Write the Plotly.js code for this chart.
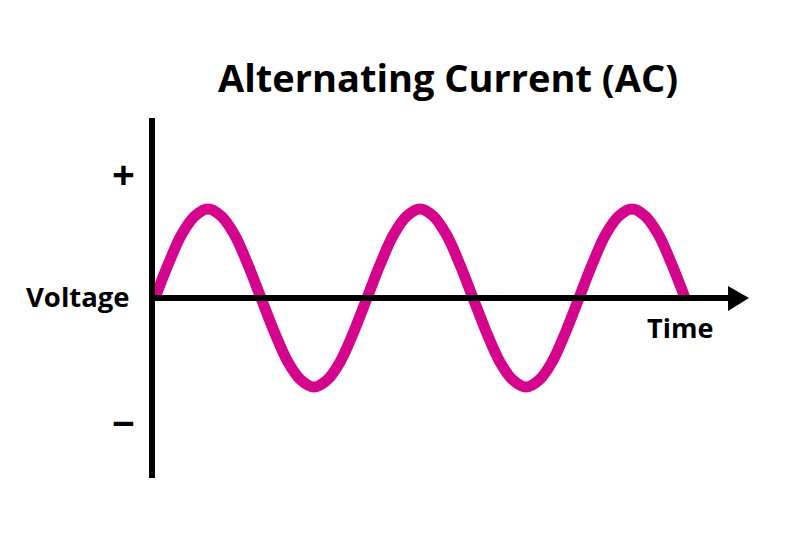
<!DOCTYPE html>
<html>
<head>
<meta charset="utf-8">
<script src="https://cdn.plot.ly/plotly-3.0.1.min.js"></script>
<style>html,body{margin:0;padding:0;background:#fff;}#chart{width:800px;height:540px;}</style>
</head>
<body>
<div id="chart"></div>
<script>
// Time in half-periods, voltage normalised to peak amplitude (read at eighth-period steps)
var timeValues = [0, 0.125, 0.25, 0.375, 0.5, 0.625, 0.75, 0.875,
                  1, 1.125, 1.25, 1.375, 1.5, 1.625, 1.75, 1.875,
                  2, 2.125, 2.25, 2.375, 2.5, 2.625, 2.75, 2.875,
                  3, 3.125, 3.25, 3.375, 3.5, 3.625, 3.75, 3.875,
                  4, 4.125, 4.25, 4.375, 4.5, 4.625, 4.75, 4.875, 5];
var voltageValues = [0, 0.38, 0.71, 0.92, 1, 0.92, 0.71, 0.38,
                     0, -0.38, -0.71, -0.92, -1, -0.92, -0.71, -0.38,
                     0, 0.38, 0.71, 0.92, 1, 0.92, 0.71, 0.38,
                     0, -0.38, -0.71, -0.92, -1, -0.92, -0.71, -0.38,
                     0, 0.38, 0.71, 0.92, 1, 0.92, 0.71, 0.38, 0];
var titleText = 'Alternating Current (AC)';
var yAxisLabel = 'Voltage';
var xAxisLabel = 'Time';
var plusLabel = '+';
var minusLabel = '\u2212';

var W = 800, H = 540;
function px(x) { return x / W; }
function py(y) { return 1 - y / H; }

var font = 'Open Sans, sans-serif';
var ink = '#000000';

var trace = {
  x: timeValues,
  y: voltageValues,
  type: 'scatter',
  mode: 'lines',
  line: { color: '#d5048c', width: 11, shape: 'spline', smoothing: 1 },
  hoverinfo: 'skip'
};

// mapping: t=0 -> 155px, 106 px per half-period; v=0 -> 298px, 89px per unit
var x0px = 155, xUnit = 106, y0px = 298, yUnit = 89;

var layout = {
  width: W, height: H,
  margin: { l: 0, r: 0, t: 0, b: 0 },
  paper_bgcolor: '#ffffff',
  plot_bgcolor: '#ffffff',
  showlegend: false,
  xaxis: { range: [-x0px / xUnit, (W - x0px) / xUnit], visible: false, fixedrange: true },
  yaxis: { range: [-(H - y0px) / yUnit, y0px / yUnit], visible: false, fixedrange: true },
  title: {
    text: '<b>' + titleText + '</b>',
    font: { family: font, size: 38, color: ink },
    x: px(448), xanchor: 'center',
    y: py(79), yanchor: 'middle', yref: 'container'
  },
  shapes: [
    { type: 'line', xref: 'paper', yref: 'paper', x0: px(152), x1: px(152), y0: py(118), y1: py(478), line: { color: ink, width: 6 } },
    { type: 'line', xref: 'paper', yref: 'paper', x0: px(149), x1: px(732), y0: py(298), y1: py(298), line: { color: ink, width: 6 } },
    { type: 'path', xref: 'paper', yref: 'paper',
      path: 'M ' + px(728) + ' ' + py(286) + ' L ' + px(749) + ' ' + py(298) + ' L ' + px(728) + ' ' + py(311) + ' Z',
      fillcolor: ink, line: { color: ink, width: 0 } }
  ],
  annotations: [
    { text: '<b>' + yAxisLabel + '</b>', xref: 'paper', yref: 'paper', x: px(132), y: py(296), xanchor: 'right', yanchor: 'middle', showarrow: false, font: { family: font, size: 27.5, color: ink } },
    { text: '<b>' + xAxisLabel + '</b>', xref: 'paper', yref: 'paper', x: px(680), y: py(327), xanchor: 'center', yanchor: 'middle', showarrow: false, font: { family: font, size: 27, color: ink } },
    { text: '<b>' + plusLabel + '</b>', xref: 'paper', yref: 'paper', x: px(123), y: py(173), xanchor: 'center', yanchor: 'middle', showarrow: false, font: { family: font, size: 40, color: ink } },
    { text: '<b>' + minusLabel + '</b>', xref: 'paper', yref: 'paper', x: px(123), y: py(422), xanchor: 'center', yanchor: 'middle', showarrow: false, font: { family: font, size: 40, color: ink } }
  ]
};

Plotly.newPlot('chart', [trace], layout, { displayModeBar: false, staticPlot: true });
</script>
</body>
</html>
